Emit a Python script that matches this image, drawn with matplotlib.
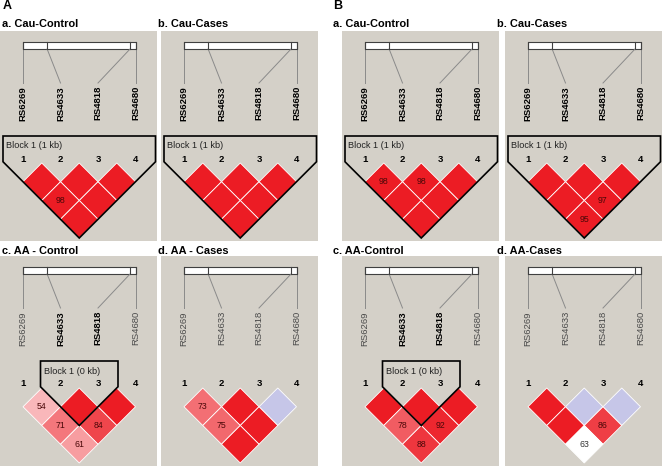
# ============================================================
# Haploview LD plots - COMT SNPs (rs6269, rs4633, rs4818, rs4680)
# Panel A and Panel B, four groups each
# ============================================================

import numpy as np
import matplotlib.pyplot as plt
from matplotlib.patches import Polygon, Rectangle

plt.rcParams['font.family'] = ['Liberation Sans', 'DejaVu Sans']

# ============================================================
# DATOS
# ============================================================

snps = ['RS6269', 'RS4633', 'RS4818', 'RS4680']
snp_pos_bp = [19949952, 19950235, 19951207, 19951271]

# pair order for every list below: (1,2) (2,3) (3,4) (1,3) (2,4) (1,4)
pairs = [(0, 1), (1, 2), (2, 3), (0, 2), (1, 3), (0, 3)]

# D' in percent (100 = not printed)
dprime_A_a = [100, 100, 100, 98, 100, 100]
dprime_A_b = [100, 100, 100, 100, 100, 100]
dprime_A_c = [54, 100, 100, 71, 84, 61]
dprime_A_d = [73, 100, 100, 75, 100, 100]
dprime_B_a = [98, 98, 100, 100, 100, 100]
dprime_B_b = [100, 100, 100, 100, 97, 95]
dprime_B_c = [100, 100, 100, 78, 92, 88]
dprime_B_d = [100, 100, 100, 100, 86, 63]

# LD class: S = strong (LOD >= 2), B = D'=1 low LOD, W = low LOD
ld_A_a = ['S'] * 6
ld_A_b = ['S'] * 6
ld_A_c = ['S'] * 6
ld_A_d = ['S', 'S', 'B', 'S', 'S', 'S']
ld_B_a = ['S'] * 6
ld_B_b = ['S'] * 6
ld_B_c = ['S'] * 6
ld_B_d = ['S', 'B', 'B', 'S', 'S', 'W']

titles_A = ['a. Cau-Control', 'b. Cau-Cases', 'c. AA - Control', 'd. AA - Cases']
titles_B = ['a. Cau-Control', 'b. Cau-Cases', 'c. AA-Control', 'd. AA-Cases']

# haplotype block (first snp, last snp, size) per panel a, b, c, d
blocks = [(0, 3, '1 kb'), (0, 3, '1 kb'), (1, 2, '0 kb'), None]

# ============================================================
# LAYOUT
# ============================================================

W, H = 662, 468
col_x = [0, 161, 342, 505]
title_x = [2, 158, 333, 497]
title_dy = [-7, -5]
row_y = [31, 256]
panel_w = 157
panel_h = 210

snp_x0 = 23        # first snp column inside panel
snp_dx = 37.5      # column spacing
half = snp_dx / 2  # half diagonal of a diamond
tri_top = 132      # top vertex of first diamond row (relative)

GRAY = '#d4d0c8'
RED = np.array([236, 28, 36]) / 255
BLUE = '#c6c6e8'


def cell_color(d, cls):
    if cls == 'B':
        return BLUE
    if cls == 'W':
        return 'white'
    t = min(1.0, max(0.0, (d - 35) / 60))
    return tuple(1 - t * (1 - RED))


fig = plt.figure(figsize=(W / 100, H / 100), dpi=100)
ax = fig.add_axes([0, 0, 1, 1])
ax.set_xlim(0, W)
ax.set_ylim(H, 0)
ax.axis('off')


def draw_panel(px, py, tx, ty, title, dprime, ld, block):

    # fondo gris
    ax.add_patch(Rectangle((px, py), panel_w, panel_h, facecolor=GRAY,
                           edgecolor='none', zorder=0))
    ax.text(tx, ty, title, ha='left', va='center',
            fontsize=7.9, fontweight='bold')

    xs = [px + snp_x0 + snp_dx * k for k in range(len(snps))]

    # barra del gen (posiciones fisicas)
    span = snp_pos_bp[-1] - snp_pos_bp[0]
    bx = [xs[0] + (p - snp_pos_bp[0]) / span * (xs[-1] - xs[0])
          for p in snp_pos_bp]
    ax.add_patch(Rectangle((bx[0], py + 11), bx[-1] - bx[0], 7,
                           facecolor='white', edgecolor='#404040',
                           linewidth=0.8, zorder=2))
    in_block = set()
    if block is not None:
        in_block = set(range(block[0], block[1] + 1))

    for k, name in enumerate(snps):
        ax.plot([bx[k], bx[k]], [py + 11, py + 18], color='#404040',
                linewidth=0.8, zorder=3)
        ax.plot([bx[k], xs[k]], [py + 18, py + 52], color='#8a8a8a',
                linewidth=0.7, zorder=2)
        bold = block is not None and k in in_block
        ax.text(xs[k], py + 55, name, rotation=90, ha='center', va='top',
                fontsize=6.8, fontweight='bold' if bold else 'normal',
                color='black' if bold else '#4a4a4a')
        ax.text(xs[k], py + tri_top - 4, str(k + 1), ha='center',
                va='center', fontsize=6.8, fontweight='bold')

    # diamantes LD
    ytop = py + tri_top
    for (i, j), d, cls in zip(pairs, dprime, ld):
        cx = (xs[i] + xs[j]) / 2
        cy = ytop + (j - i) * half
        verts = [(cx, cy - half), (cx + half, cy), (cx, cy + half),
                 (cx - half, cy)]
        ax.add_patch(Polygon(verts, closed=True,
                             facecolor=cell_color(d, cls),
                             edgecolor='white', linewidth=0.6, zorder=3))
        if d < 100:
            ax.text(cx, cy, str(d), ha='center', va='center', fontsize=6.3,
                    color='#333333' if cls == 'W' else '#4a0808', zorder=5)

    # bloque
    if block is not None:
        a, b, kb = block
        xl = xs[a] - 20
        xr = xs[b] + 20
        xm = (xs[a] + xs[b]) / 2
        yb = ytop + (b - a + 1) * half
        outline = [(xl, ytop - 27), (xr, ytop - 27), (xr, yb - (xr - xm)),
                   (xm, yb), (xl, yb - (xm - xl))]
        ax.add_patch(Polygon(outline, closed=True, facecolor='none',
                             edgecolor='black', linewidth=1.2, zorder=4))
        ax.text(xl + 3, ytop - 17, f'Block 1 ({kb})', ha='left',
                va='center', fontsize=6.6, color='#222222', zorder=5)


# ============================================================
# DIBUJO
# ============================================================

dprime_A = [dprime_A_a, dprime_A_b, dprime_A_c, dprime_A_d]
dprime_B = [dprime_B_a, dprime_B_b, dprime_B_c, dprime_B_d]
ld_A = [ld_A_a, ld_A_b, ld_A_c, ld_A_d]
ld_B = [ld_B_a, ld_B_b, ld_B_c, ld_B_d]

for side, (titles, dps, lds) in enumerate([(titles_A, dprime_A, ld_A),
                                           (titles_B, dprime_B, ld_B)]):
    for n in range(4):
        c = side * 2 + n % 2
        r = n // 2
        draw_panel(col_x[c], row_y[r], title_x[c], row_y[r] + title_dy[r],
                   titles[n], dps[n], lds[n], blocks[n])

ax.text(3, 6, 'A', ha='left', va='center', fontsize=9, fontweight='bold')
ax.text(333, 6, 'B', ha='left', va='center', fontsize=9, fontweight='bold')

fig.savefig('out.png', dpi=100)
